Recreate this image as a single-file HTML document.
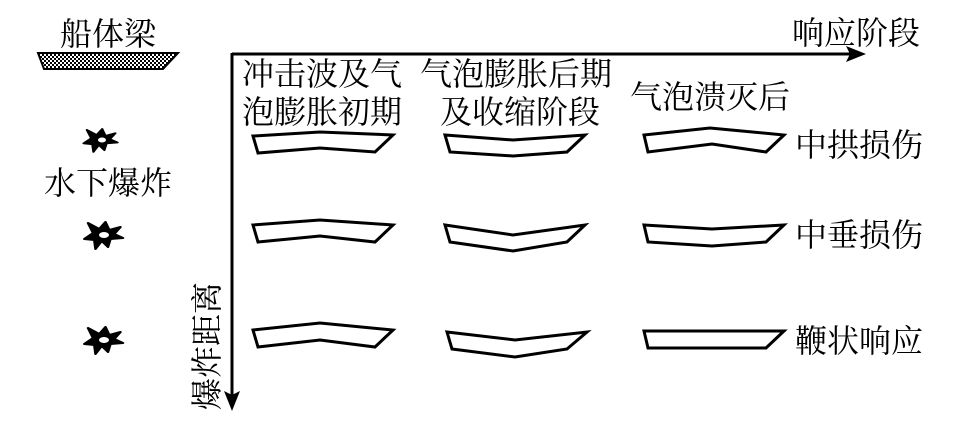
<!DOCTYPE html>
<html><head><meta charset="utf-8"><style>
html,body{margin:0;padding:0;background:#fff;}
svg{display:block;}
text{font-family:"Liberation Serif","Noto Serif CJK SC","Noto Sans CJK SC",serif;font-size:32px;fill:#000;}
</style></head><body>
<svg width="970" height="431" viewBox="0 0 970 431" xmlns="http://www.w3.org/2000/svg">
<defs>
<pattern id="chk" width="4" height="4" patternUnits="userSpaceOnUse">
<rect width="4" height="4" fill="#fff"/><rect width="2" height="2" fill="#000"/><rect x="2" y="2" width="2" height="2" fill="#000"/>
</pattern>
</defs>
<text x="60" y="45">船体梁</text>
<polygon points="38,53 178,53 163,69 44,69" fill="url(#chk)" stroke="#000" stroke-width="2"/>
<text x="44" y="194">水下爆炸</text>
<line x1="232" y1="54" x2="852" y2="54" stroke="#000" stroke-width="3"/>
<polygon points="866,54 846,46 850,54 846,62" fill="#000"/>
<line x1="232" y1="53" x2="232" y2="398" stroke="#000" stroke-width="3"/>
<polygon points="232,411 224,391 232,395 240,391" fill="#000"/>
<text x="792" y="44">响应阶段</text>
<text transform="translate(218,410) rotate(-90)">爆炸距离</text>
<text x="242" y="85">冲击波及气</text>
<text x="242" y="123">泡膨胀初期</text>
<text x="420" y="85">气泡膨胀后期</text>
<text x="440" y="123">及收缩阶段</text>
<text x="630" y="108">气泡溃灭后</text>
<text x="795" y="156">中拱损伤</text>
<text x="795" y="246">中垂损伤</text>
<text x="795" y="352">鞭状响应</text>
<g fill="#000" stroke="#000" stroke-width="2" stroke-linejoin="round">
<polygon transform="translate(100,140) scale(1.1,0.85)" points="-12,-12 -3,-6 2,-13 5,-5 14,-8 9,-1 16,3 6,4 4,12 -1,6 -6,14 -7,5 -15,4 -8,-2"/>
<polygon transform="translate(103,235) scale(1.25,1)" points="-12,-12 -3,-6 2,-13 5,-5 14,-8 9,-1 16,3 6,4 4,12 -1,6 -6,14 -7,5 -15,4 -8,-2"/>
<polygon transform="translate(103,340) scale(1.25,1)" points="-12,-12 -3,-6 2,-13 5,-5 14,-8 9,-1 16,3 6,4 4,12 -1,6 -6,14 -7,5 -15,4 -8,-2"/>
</g>
<g fill="#fff">
<ellipse cx="102" cy="140" rx="4" ry="2.5"/>
<ellipse cx="104" cy="235" rx="5" ry="3"/>
<ellipse cx="104" cy="340" rx="5" ry="3"/>
</g>
<g fill="#fff" stroke="#000" stroke-width="3" stroke-linejoin="miter">
<polygon points="253,136 320,132 393,135 375,152 320,148 258,153"/>
<polygon points="445,135 513,140 585,135 567,152 513,156 450,152"/>
<polygon points="644,135 710,128 784,135 766,152 712,144 648,152"/>
<polygon points="253,225 320,220 393,225 375,242 320,236 258,242"/>
<polygon points="445,225 513,235 585,225 567,242 513,251 450,242"/>
<polygon points="644,225 712,229 784,225 766,242 712,246 648,242"/>
<polygon points="253,330 320,323 393,330 375,347 320,340 258,347"/>
<polygon points="447,332 515,340 587,332 567,349 515,357 452,349"/>
<polygon points="644,331 784,331 766,348 648,348"/>
</g>
</svg>
</body></html>
